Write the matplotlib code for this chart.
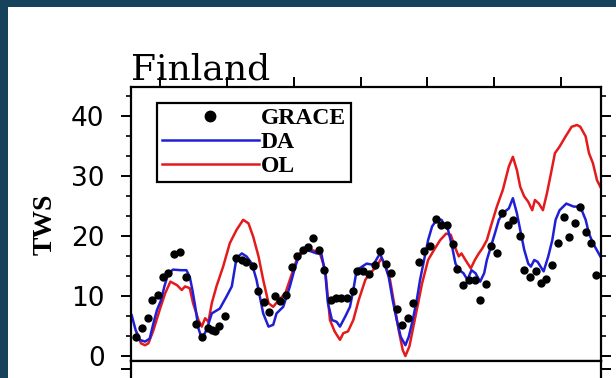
import matplotlib
matplotlib.use("Agg")
import matplotlib.pyplot as plt
from matplotlib.lines import Line2D
from matplotlib.patches import Rectangle
from matplotlib.ticker import MultipleLocator, FixedLocator

# GRACE monthly TWS (decimal year, value)
grace_t = [2002.63, 2002.72, 2002.81, 2002.88, 2002.97, 2003.04, 2003.12, 2003.20, 2003.29, 2003.38,
           2003.54, 2003.63, 2003.72, 2003.78, 2003.82, 2003.88, 2003.97, 2004.13, 2004.22, 2004.29,
           2004.38, 2004.46, 2004.55, 2004.63, 2004.71, 2004.79, 2004.88, 2004.97, 2005.05, 2005.13,
           2005.21, 2005.29, 2005.38, 2005.45, 2005.55, 2005.63, 2005.71, 2005.79, 2005.88, 2005.95,
           2006.04, 2006.12, 2006.21, 2006.29, 2006.38, 2006.45, 2006.54, 2006.62, 2006.71, 2006.79,
           2006.87, 2006.95, 2007.04, 2007.13, 2007.21, 2007.29, 2007.38, 2007.45, 2007.54, 2007.62,
           2007.71, 2007.79, 2007.87, 2007.95, 2008.04, 2008.12, 2008.21, 2008.28, 2008.38, 2008.45,
           2008.54, 2008.62, 2008.70, 2008.78, 2008.87, 2008.95, 2009.04, 2009.12, 2009.21, 2009.28,
           2009.37, 2009.45, 2009.53]
grace_v = [3.2, 4.6, 6.4, 9.3, 10.2, 13.2, 13.9, 17.0, 17.4, 13.2,
           5.4, 3.1, 4.6, 4.3, 4.1, 5.0, 6.6, 16.3, 16.0, 15.7,
           15.0, 10.8, 9.0, 7.4, 10.0, 9.2, 10.1, 14.9, 16.6, 17.7,
           18.2, 19.6, 17.7, 14.4, 9.4, 9.6, 9.6, 9.6, 10.8, 14.2,
           14.1, 13.7, 15.1, 17.5, 15.4, 13.8, 7.9, 5.1, 6.4, 8.9,
           15.6, 17.5, 18.3, 22.8, 21.9, 21.8, 18.7, 14.5, 11.8, 12.7,
           12.7, 9.3, 12.0, 18.3, 17.2, 23.9, 21.8, 22.7, 20.0, 14.4,
           13.2, 14.1, 12.1, 12.9, 15.2, 18.9, 23.1, 19.9, 22.1, 24.9,
           20.7, 18.9, 13.5]

# Data assimilation run
da_t = [2002.57, 2002.63, 2002.69, 2002.77, 2002.84, 2002.89, 2002.95, 2003.01, 2003.06, 2003.12,
        2003.19, 2003.31, 2003.39, 2003.44, 2003.48, 2003.53, 2003.57, 2003.62, 2003.69, 2003.77,
        2003.89, 2003.99, 2004.07, 2004.14, 2004.22, 2004.29, 2004.37, 2004.44, 2004.54, 2004.62,
        2004.69, 2004.74, 2004.84, 2004.94, 2005.02, 2005.09, 2005.19, 2005.34, 2005.41, 2005.47,
        2005.51, 2005.57, 2005.64, 2005.69, 2005.77, 2005.84, 2005.89, 2005.94, 2006.09, 2006.19,
        2006.29, 2006.37, 2006.42, 2006.48, 2006.54, 2006.60, 2006.67, 2006.72, 2006.78, 2006.84,
        2006.89, 2006.95, 2007.01, 2007.07, 2007.14, 2007.21, 2007.31, 2007.37, 2007.42, 2007.48,
        2007.54, 2007.60, 2007.66, 2007.72, 2007.79, 2007.85, 2007.89, 2007.95, 2008.01, 2008.07,
        2008.13, 2008.22, 2008.28, 2008.34, 2008.39, 2008.45, 2008.51, 2008.55, 2008.60, 2008.65,
        2008.74, 2008.81, 2008.87, 2008.92, 2008.98, 2009.08, 2009.19, 2009.29, 2009.37, 2009.42,
        2009.48, 2009.59]
da_v = [6.8, 4.3, 2.7, 2.4, 2.9, 5.2, 7.7, 9.3, 11.6, 13.8,
        14.4, 14.3, 14.3, 13.2, 11.0, 7.7, 4.6, 2.9, 4.3, 7.1,
        7.9, 9.9, 11.6, 16.3, 17.1, 16.6, 15.4, 12.7, 7.1, 4.9,
        5.2, 7.1, 8.2, 11.6, 14.9, 17.1, 17.7, 17.1, 17.1, 13.8,
        8.8, 6.0, 5.7, 4.9, 6.6, 8.2, 11.0, 14.3, 15.4, 15.2,
        17.1, 14.9, 13.2, 9.3, 6.0, 3.2, 1.8, 3.2, 6.0, 9.3,
        12.7, 16.0, 19.3, 21.6, 22.7, 22.7, 21.0, 18.2, 15.4, 14.3,
        13.8, 12.7, 14.3, 13.8, 12.4, 13.8, 16.0, 18.2, 20.4, 22.7,
        23.8, 24.6, 26.3, 23.8, 21.0, 17.7, 15.4, 14.9, 16.0, 15.7,
        14.1, 16.6, 19.3, 22.7, 24.3, 25.4, 24.9, 24.9, 22.7, 20.4,
        18.8, 16.6]

# Open loop run
ol_t = [2002.65, 2002.71, 2002.77, 2002.82, 2002.89, 2002.99, 2003.07, 2003.15, 2003.25, 2003.32,
        2003.37, 2003.44, 2003.49, 2003.57, 2003.62, 2003.67, 2003.72, 2003.77, 2003.84, 2003.94,
        2004.04, 2004.14, 2004.24, 2004.32, 2004.39, 2004.47, 2004.54, 2004.62, 2004.69, 2004.77,
        2004.87, 2004.94, 2005.04, 2005.14, 2005.27, 2005.39, 2005.47, 2005.54, 2005.61, 2005.69,
        2005.74, 2005.81, 2005.89, 2005.97, 2006.07, 2006.14, 2006.24, 2006.31, 2006.38, 2006.44,
        2006.51, 2006.57, 2006.63, 2006.67, 2006.73, 2006.79, 2006.85, 2006.92, 2007.01, 2007.10,
        2007.19, 2007.28, 2007.35, 2007.41, 2007.47, 2007.51, 2007.57, 2007.65, 2007.71, 2007.77,
        2007.82, 2007.89, 2007.95, 2008.04, 2008.13, 2008.22, 2008.28, 2008.34, 2008.39, 2008.45,
        2008.51, 2008.57, 2008.61, 2008.67, 2008.73, 2008.79, 2008.85, 2008.91, 2008.98, 2009.07,
        2009.16, 2009.24, 2009.29, 2009.37, 2009.42, 2009.48, 2009.54, 2009.59]
ol_v = [3.8, 2.1, 1.8, 2.1, 4.1, 7.7, 10.4, 12.4, 11.8, 11.0,
        11.6, 11.3, 8.8, 6.0, 4.9, 6.3, 5.7, 8.8, 11.6, 14.9,
        18.8, 21.0, 22.7, 22.1, 19.9, 16.6, 12.7, 8.8, 8.2, 9.3,
        10.4, 12.7, 16.0, 17.4, 17.7, 17.1, 14.3, 6.0, 4.1, 2.7,
        3.8, 4.1, 6.0, 9.3, 12.7, 13.8, 14.9, 16.3, 14.9, 12.7,
        8.2, 4.3, 1.0, 0.0, 1.6, 4.9, 8.2, 12.1, 16.0, 17.7,
        19.3, 20.4, 20.2, 18.2, 16.6, 17.1, 16.0, 14.6, 16.0, 17.1,
        17.9, 19.3, 21.6, 24.9, 27.7, 31.6, 33.2, 31.0, 28.2, 26.6,
        25.7, 24.3, 26.0, 25.4, 24.3, 27.1, 30.4, 33.8, 34.9, 36.6,
        38.2, 38.5, 38.2, 36.6, 33.8, 32.1, 29.3, 28.2]

year_ticks = [2003, 2004, 2005, 2006, 2007, 2008, 2009]
y_ticks = [0, 10, 20, 30, 40]

W, H = 616, 378
fig = plt.figure(figsize=(W / 100, H / 100), dpi=100, facecolor="#17425b")
fig.add_artist(Rectangle((8 / W, 0), 1, 1 - 7 / H, transform=fig.transFigure,
                         facecolor="white", edgecolor="none", zorder=0))

ax = fig.add_axes([131 / W, 17 / H, 470 / W, 274 / H])
ax.plot(da_t, da_v, color="#1f1fd6", lw=1.8, zorder=2)
ax.plot(ol_t, ol_v, color="#e41a1c", lw=1.8, zorder=1)
ax.plot(grace_t, grace_v, "o", color="black", ms=5, zorder=3)

ax.set_xlim(2002.56, 2009.6)
ax.set_ylim(-0.83, 44.83)
for s in ax.spines.values():
    s.set_linewidth(1.6)

ax.yaxis.set_major_locator(FixedLocator(y_ticks))
ax.yaxis.set_minor_locator(MultipleLocator(10 / 3))
ax.tick_params(axis="y", which="both", direction="out", left=True, right=True,
               labelleft=True, labelright=False)
ax.tick_params(axis="y", which="major", length=7, width=1.4, pad=12, labelsize=19)
ax.tick_params(axis="y", which="minor", length=3.6, width=1.2)
ax.xaxis.set_major_locator(FixedLocator(year_ticks))
ax.tick_params(axis="x", which="major", direction="out", top=True, bottom=False,
               labeltop=False, labelbottom=False, length=7.5, width=1.4)
ax.tick_params(axis="x", which="minor", top=False, bottom=False)

ax.set_ylabel("TWS", family="Liberation Serif", weight="bold", fontsize=20, labelpad=10)
ax.set_title("Finland", loc="left", family="DejaVu Serif", fontsize=26, pad=5)

handles = [Line2D([], [], ls="none", marker="o", color="black", ms=7.5),
           Line2D([], [], color="#1f1fd6", lw=1.8),
           Line2D([], [], color="#e41a1c", lw=1.8)]
leg = ax.legend(handles, ["GRACE", "DA", "OL"], loc="upper left",
                bbox_to_anchor=((157 - 131) / 470, (361 - 103) / 274), borderaxespad=0,
                prop={"family": "Liberation Serif", "weight": "bold", "size": 17},
                handlelength=4.1, handletextpad=0.1, labelspacing=0.1, borderpad=0.2,
                fancybox=False, framealpha=1, edgecolor="black", numpoints=1)
leg.get_frame().set_linewidth(1.6)

# top of the panel below
ax2 = fig.add_axes([131 / W, -0.1, 470 / W, 0.1 + 17 / H])
ax2.set_xlim(0, 1)
ax2.set_ylim(0, 1)
ax2.set_xticks([])
ax2.yaxis.set_major_locator(FixedLocator([1 - 8 / (0.1 * H + 17)]))
ax2.tick_params(axis="y", direction="out", left=True, right=True, labelleft=False,
                length=7, width=1.4)
ax2.spines["bottom"].set_visible(False)
for s in ax2.spines.values():
    s.set_linewidth(1.6)

fig.savefig("out.png", dpi=100, facecolor=fig.get_facecolor())
